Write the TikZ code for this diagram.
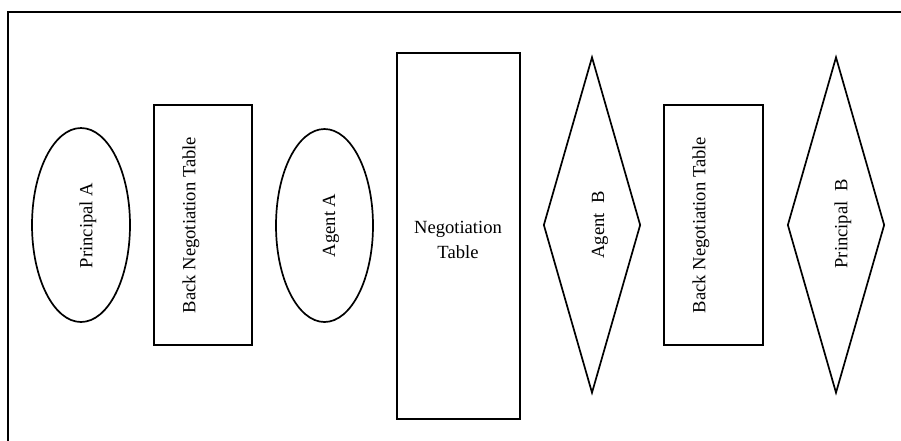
\documentclass[tikz,border=0pt]{standalone}
\usepackage{fontspec}
\setmainfont{Liberation Serif}
\usetikzlibrary{shapes.geometric}
\begin{document}
\begin{tikzpicture}[x=1pt,y=-1pt,
  outline/.style={draw=black,line width=1.7pt,inner sep=0pt},
  oval/.style={outline,ellipse},
  box/.style={outline,rectangle},
  rhombus/.style={outline,diamond},
  vlabel/.style={rotate=90,inner sep=0pt,font=\fontsize{18.6}{25}\selectfont},
  hlabel/.style={inner sep=0pt,align=center,font=\fontsize{18.6}{25}\selectfont}]
  \useasboundingbox (0,0) rectangle (901,440);
  % open frame: left and top sides only
  \coordinate (fbl) at (8,441);
  \coordinate (ftl) at (8,12);
  \coordinate (ftr) at (902,12);
  \draw[line width=1.7pt] (fbl) -- (ftl) -- (ftr);

  % shapes
  \node[oval,minimum width=98pt,minimum height=194pt] (pa) at (81,225) {};
  \node[box,minimum width=98pt,minimum height=240pt] (bnta) at (203,225) {};
  \node[oval,minimum width=97pt,minimum height=193pt] (aa) at (324.5,225.5) {};
  \node[box,minimum width=123pt,minimum height=366pt] (nt) at (458.5,236) {};
  \node[rhombus,minimum width=97pt,minimum height=336pt] (ab) at (592,225) {};
  \node[box,minimum width=99pt,minimum height=240pt] (bntb) at (713.5,225) {};
  \node[rhombus,minimum width=97pt,minimum height=336pt] (pb) at (836,225) {};

  % labels
  \node[vlabel] (lpa) at (88,225.5) {Principal A};
  \node[vlabel] (lbnta) at (191,225) {Back Negotiation Table};
  \node[vlabel] (laa) at (331,225.5) {Agent A};
  \node[hlabel] (lnt) at (458,240) {Negotiation\\Table};
  \node[vlabel] (lab) at (600,225) {Agent~~B};
  \node[vlabel] (lbntb) at (701,225) {Back Negotiation Table};
  \node[vlabel] (lpb) at (843,224) {Principal~~B};
\end{tikzpicture}
\end{document}
